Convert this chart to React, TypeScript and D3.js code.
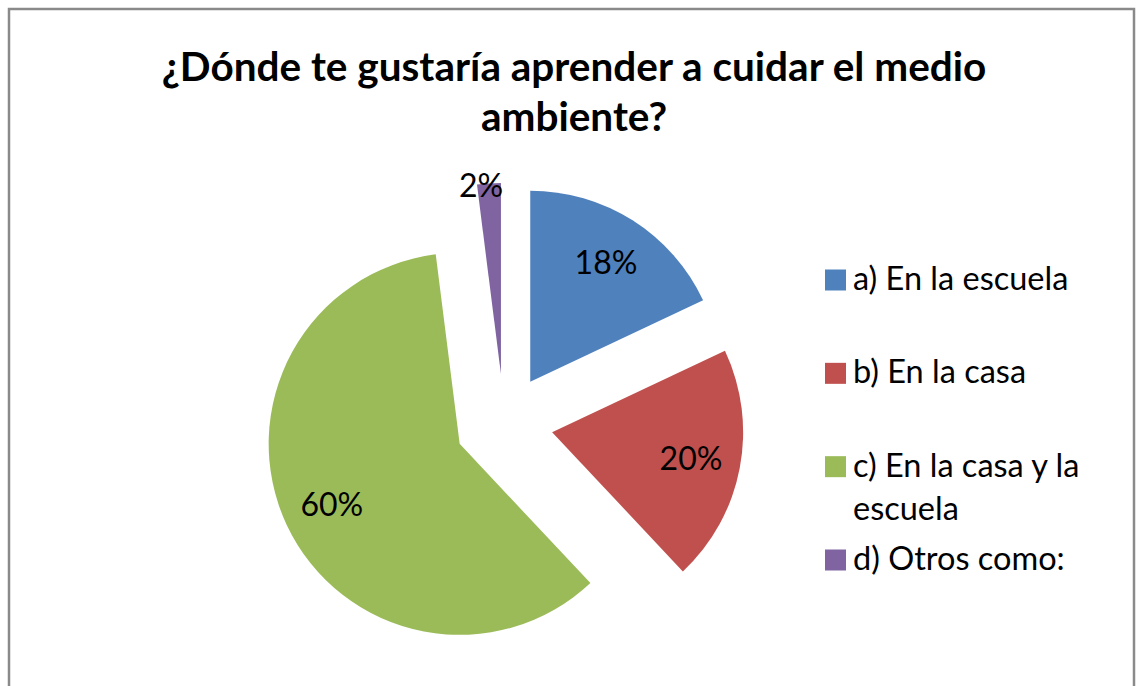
import React from "react";
import * as d3 from "d3";

const categories = ["a) En la escuela", "b) En la casa", "c) En la casa y la escuela", "d) Otros como:"];
const legendLines = [["a) En la escuela"], ["b) En la casa"], ["c) En la casa y la", "escuela"], ["d) Otros como:"]];
const values = [18, 20, 60, 2];
const colors = ["#4F81BD", "#C0504D", "#9BBB59", "#8064A2"];
const titleLines = ["¿Dónde te gustaría aprender a cuidar el medio", "ambiente?"];

const W = 1137;
const H = 686;
const cx = 504;
const cy = 423;
const R = 191;
const explode = 49;
const FONT = "Lato, 'Open Sans', sans-serif";

export default function App() {
  const pie = d3.pie<number>().value((d) => d).sort(null);
  const arcs = pie(values);
  const arc = d3.arc<d3.PieArcDatum<number>>().innerRadius(0).outerRadius(R);
  const labelArc = d3.arc<d3.PieArcDatum<number>>().innerRadius(R * 0.74).outerRadius(R * 0.74);
  const outArc = d3.arc<d3.PieArcDatum<number>>().innerRadius(R * 0.99).outerRadius(R * 0.99);
  const total = d3.sum(values);

  const legendY = d3.scalePoint<number>().domain([0, 1, 2, 3]).range([280, 560]);

  return (
    <svg width={W} height={H} style={{ position: "absolute", left: 0, top: 0, background: "#fff" }}>
      <rect x={9} y={9} width={1125} height={720} fill="#fff" stroke="#8a8a8a" strokeWidth={2.5} />
      <g fontFamily={FONT} fontWeight="bold" fontSize={40.5} fill="#000" textAnchor="middle">
        {titleLines.map((t, i) => (
          <text key={i} x={574} y={81 + i * 50}>{t}</text>
        ))}
      </g>
      <g>
        {arcs.map((a, i) => {
          const mid = (a.startAngle + a.endAngle) / 2;
          const ox = cx + explode * Math.sin(mid);
          const oy = cy - explode * Math.cos(mid);
          const pct = Math.round((a.value / total) * 100) + "%";
          const inside = a.value / total > 0.05;
          const [lx, ly] = inside ? labelArc.centroid(a) : outArc.centroid(a);
          return (
            <g key={i} transform={`translate(${ox},${oy})`}>
              <path d={arc(a) || ""} fill={colors[i]} />
              <text
                x={inside ? lx : lx - 8}
                y={ly}
                dy="0.36em"
                textAnchor="middle"
                fontFamily={FONT}
                fontSize={32}
                fill="#000"
              >
                {pct}
              </text>
            </g>
          );
        })}
      </g>
      <g fontFamily={FONT} fontSize={32.5} fill="#000">
        {categories.map((c, i) => {
          const y = legendY(i) as number;
          return (
            <g key={c}>
              <rect x={825} y={y - 10.5} width={21} height={21} fill={colors[i]} />
              {legendLines[i].map((l, j) => (
                <text key={j} x={853} y={y + 10 + j * 43}>{l}</text>
              ))}
            </g>
          );
        })}
      </g>
    </svg>
  );
}
